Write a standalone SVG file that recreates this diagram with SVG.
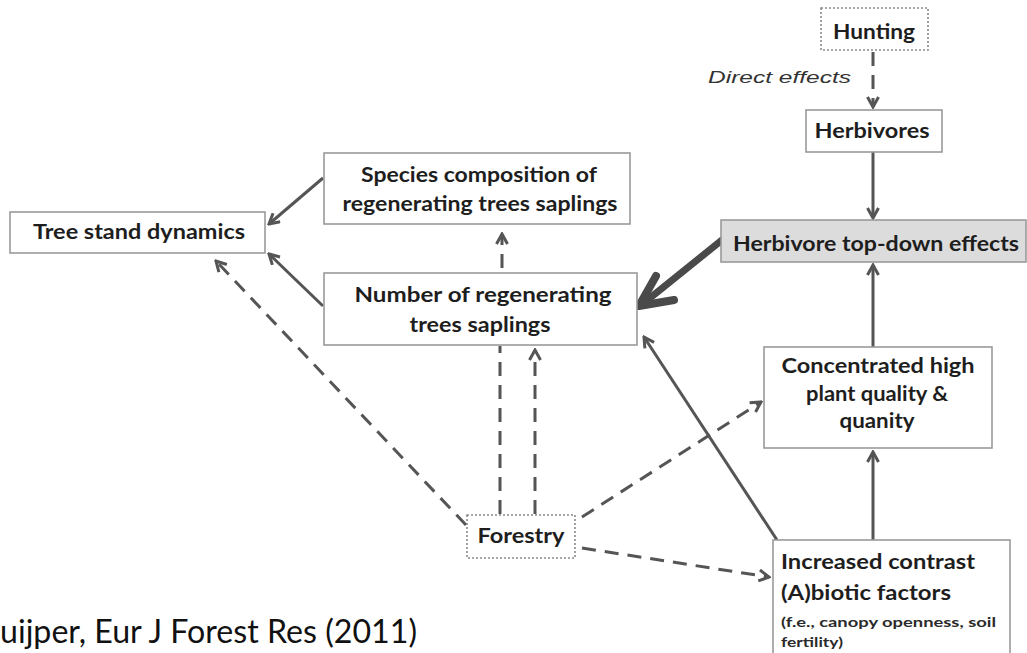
<svg xmlns="http://www.w3.org/2000/svg" width="1027" height="653" viewBox="0 0 1027 653">
<defs>
<style>
.box{fill:#fff;stroke:#9a9a9a;stroke-width:1.6}
.dot{fill:#fff;stroke:#8a8a8a;stroke-width:1.6;stroke-dasharray:2 2}
.t{font-family:Lato,"Open Sans","Liberation Sans",sans-serif;font-weight:bold;fill:#1e1e1e;font-size:21px}
.s{font-family:Lato,"Open Sans","Liberation Sans",sans-serif;font-weight:bold;fill:#2a2a2a;font-size:14px}
.c{stroke:#555;stroke-width:3;fill:none}
.d{stroke:#555;stroke-width:3;fill:none;stroke-dasharray:14 9}
</style>
<marker id="open" viewBox="0 0 14 14" refX="12" refY="7" markerWidth="14" markerHeight="14" markerUnits="userSpaceOnUse" orient="auto">
<path d="M2,1.5 L12,7 L2,12.5" fill="none" stroke="#555" stroke-width="3"/>
</marker>
</defs>
<rect width="1027" height="653" fill="#fff"/>
<g id="connectors">
<line class="d" x1="873" y1="52" x2="873" y2="107" marker-end="url(#open)"/>
<line class="c" x1="873" y1="152" x2="873" y2="218" marker-end="url(#open)"/>
<line class="c" x1="873" y1="347" x2="873" y2="265" marker-end="url(#open)"/>
<line class="c" x1="873" y1="540" x2="873" y2="452" marker-end="url(#open)"/>
<line class="c" x1="777" y1="540" x2="644" y2="337" marker-end="url(#open)"/>
<g id="thick-arrow" stroke="#4a4a4a" stroke-linejoin="round" stroke-linecap="round">
<line x1="722" y1="240" x2="645" y2="302" stroke-width="7"/>
<path d="M656,276 L639,306 L674,300" fill="none" stroke-width="8"/>
</g>
<line class="d" x1="502" y1="268" x2="502" y2="234" marker-end="url(#open)" stroke-dasharray="10 6"/>
<line class="c" x1="323" y1="178" x2="269" y2="224" marker-end="url(#open)"/>
<path class="c" d="M323,306 L297,281 L269,254" marker-end="url(#open)"/>
<line class="d" x1="466" y1="525" x2="216" y2="261" marker-end="url(#open)"/>
<line class="d" x1="500" y1="514" x2="500" y2="346"/>
<line class="d" x1="535" y1="514" x2="535" y2="350" marker-end="url(#open)"/>
<line class="d" x1="582" y1="517" x2="761" y2="402" marker-end="url(#open)"/>
<line class="d" x1="582" y1="548" x2="769" y2="577" marker-end="url(#open)"/>
</g>
<g id="hunting">
<rect class="dot" x="821" y="8" width="107" height="42"/>
<text class="t" x="874" y="39" text-anchor="middle" textLength="82" lengthAdjust="spacingAndGlyphs">Hunting</text>
</g>
<text id="direct-effects" x="708" y="83" font-family="'Liberation Sans',Arial,sans-serif" font-style="italic" font-size="16" fill="#333" textLength="143" lengthAdjust="spacingAndGlyphs">Direct effects</text>
<g id="herbivores">
<rect class="box" x="806" y="110" width="136" height="42"/>
<text class="t" x="872" y="138" text-anchor="middle" textLength="115" lengthAdjust="spacingAndGlyphs">Herbivores</text>
</g>
<g id="topdown">
<rect x="721" y="220" width="305" height="42" fill="#dcdcdc" stroke="#9a9a9a" stroke-width="1.6"/>
<text class="t" x="733" y="251" font-size="23" textLength="286" lengthAdjust="spacingAndGlyphs">Herbivore top-down effects</text>
</g>
<g id="concentrated">
<rect class="box" x="764" y="347" width="228" height="101"/>
<text class="t" x="878" y="373" text-anchor="middle" textLength="193" lengthAdjust="spacingAndGlyphs">Concentrated high</text>
<text class="t" x="877" y="401" text-anchor="middle" textLength="142" lengthAdjust="spacingAndGlyphs">plant quality &amp;</text>
<text class="t" x="877" y="428" text-anchor="middle" textLength="75" lengthAdjust="spacingAndGlyphs">quanity</text>
</g>
<g id="increased">
<rect class="box" x="773" y="540" width="237" height="125"/>
<text class="t" x="781" y="569" textLength="194" lengthAdjust="spacingAndGlyphs">Increased contrast</text>
<text class="t" x="781" y="600" textLength="170" lengthAdjust="spacingAndGlyphs">(A)biotic factors</text>
<text class="s" x="781" y="627" textLength="215" lengthAdjust="spacingAndGlyphs">(f.e., canopy openness, soil</text>
<text class="s" x="781" y="647" textLength="62" lengthAdjust="spacingAndGlyphs">fertility)</text>
</g>
<g id="number">
<rect class="box" x="324" y="273" width="313" height="72"/>
<text class="t" x="483" y="302" text-anchor="middle" textLength="257" lengthAdjust="spacingAndGlyphs">Number of regenerating</text>
<text class="t" x="480" y="332" text-anchor="middle" textLength="141" lengthAdjust="spacingAndGlyphs">trees saplings</text>
</g>
<g id="species">
<rect class="box" x="324" y="153" width="306" height="71"/>
<text class="t" x="479" y="182" text-anchor="middle" textLength="236" lengthAdjust="spacingAndGlyphs">Species composition of</text>
<text class="t" x="480" y="211" text-anchor="middle" textLength="275" lengthAdjust="spacingAndGlyphs">regenerating trees saplings</text>
</g>
<g id="treestand">
<rect class="box" x="10" y="212" width="255" height="41"/>
<text class="t" x="139" y="239" text-anchor="middle" textLength="212" lengthAdjust="spacingAndGlyphs">Tree stand dynamics</text>
</g>
<g id="forestry">
<rect class="dot" x="467" y="515" width="108" height="43"/>
<text class="t" x="521" y="543" text-anchor="middle" textLength="87" lengthAdjust="spacingAndGlyphs">Forestry</text>
</g>
<text id="citation" x="0" y="643" font-family="Lato,'Open Sans','Liberation Sans',sans-serif" font-size="32" fill="#111" textLength="417" lengthAdjust="spacingAndGlyphs">uijper, Eur J Forest Res (2011)</text>
</svg>
